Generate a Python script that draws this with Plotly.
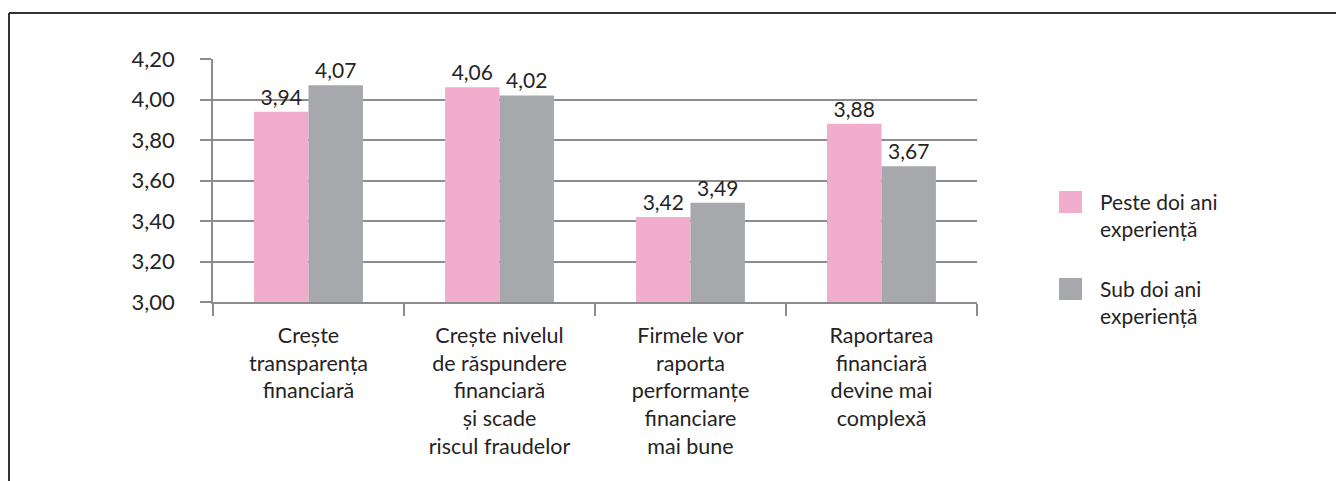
import plotly.graph_objects as go

categories = [
    "Crește<br>transparența<br>financiară",
    "Crește nivelul<br>de răspundere<br>financiară<br>și scade<br>riscul fraudelor",
    "Firmele vor<br>raporta<br>performanțe<br>financiare<br>mai bune",
    "Raportarea<br>financiară<br>devine mai<br>complexă",
]
series_names = ["Peste doi ani<br>experiență", "Sub doi ani<br>experiență"]
series_colors = ["#F2ACCD", "#A7A8AC"]
peste = [3.94, 4.06, 3.42, 3.88]
sub = [4.07, 4.02, 3.49, 3.67]
y_ticks = [3.00, 3.20, 3.40, 3.60, 3.80, 4.00, 4.20]

FONT = "Lato"
TXT = "#262324"
GRID = "#8c8c8c"

W, H = 1344, 481
OFF = 8  # page body margin
PL, PR, PT, PB = 213, 977, 59, 302  # plot area in page pixels
pw, ph = PR - PL, PB - PT
L, T = PL - OFF, PT - OFF
R, B = W - L - pw, H - T - ph

def px_x(x):
    return (x - PL) / pw

def px_y(y):
    return (PB - y) / ph

fig = go.Figure()
for name, vals, col in zip(series_names, [peste, sub], series_colors):
    fig.add_trace(go.Bar(
        x=categories, y=vals, name=name, showlegend=False,
        marker=dict(color=col, line=dict(width=0)),
        texttemplate="%{y:.2f}", textposition="outside", constraintext="none",
        textfont=dict(family=FONT, size=21, color=TXT), cliponaxis=False,
    ))

shapes = [
    dict(type="line", xref="paper", yref="paper",
         x0=px_x(9), x1=px_x(W + 20), y0=px_y(13), y1=px_y(13),
         line=dict(color="#333333", width=2)),
    dict(type="line", xref="paper", yref="paper",
         x0=px_x(9), x1=px_x(9), y0=px_y(13), y1=px_y(H + 20),
         line=dict(color="#333333", width=2)),
]
annotations = []
leg_tops = [191, 278]
for name, col, top in zip(series_names, series_colors, leg_tops):
    shapes.append(dict(type="rect", xref="paper", yref="paper",
                       x0=px_x(1059), x1=px_x(1082), y0=px_y(top), y1=px_y(top + 22),
                       fillcolor=col, line=dict(width=0)))
    annotations.append(dict(xref="paper", yref="paper", x=px_x(1098), y=px_y(top - 4),
                            xanchor="left", yanchor="top", align="left", showarrow=False,
                            text=name, font=dict(family=FONT, size=21, color=TXT)))

fig.update_layout(
    width=W, height=H,
    margin=dict(l=L, r=R, t=T, b=B),
    paper_bgcolor="white", plot_bgcolor="white",
    separators=", ",
    barmode="group", bargap=0.43, bargroupgap=0,
    font=dict(family=FONT, size=21, color=TXT),
    showlegend=False,
    xaxis=dict(
        type="category", showgrid=False, showline=True, linecolor=GRID, linewidth=1.5,
        ticks="outside", tickson="boundaries", ticklen=12, tickcolor=GRID, tickwidth=1.5,
        tickfont=dict(family=FONT, size=21.5, color=TXT), tickangle=0,
        ticklabelstandoff=13,
    ),
    yaxis=dict(
        range=[3.0, 4.2], tickvals=y_ticks, tickformat=".2f",
        showgrid=True, gridcolor=GRID, gridwidth=1.5,
        showline=True, linecolor=GRID, linewidth=1.5,
        ticks="outside", ticklen=11, tickcolor=GRID, tickwidth=1.5,
        tickfont=dict(family=FONT, size=22, color=TXT), zeroline=False,
        ticklabelstandoff=21,
    ),
    shapes=shapes,
    annotations=annotations,
)

fig.write_html("out.html")
